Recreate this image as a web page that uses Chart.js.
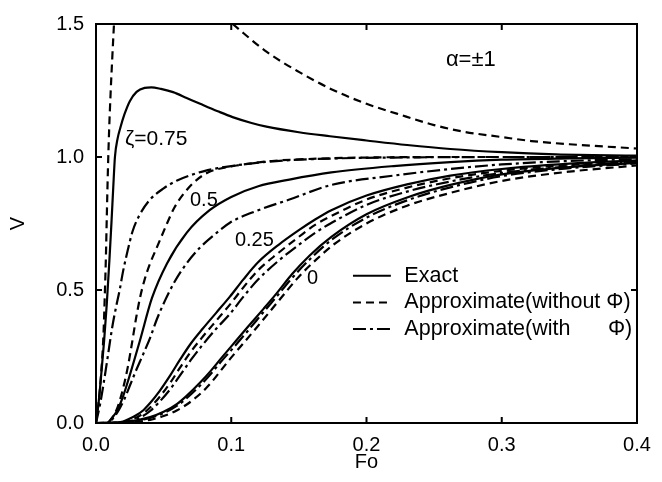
<!DOCTYPE html>
<html><head><meta charset="utf-8">
<script src="https://cdn.jsdelivr.net/npm/chart.js@4.4.0/dist/chart.umd.min.js"></script>
<style>html,body{margin:0;padding:0;background:#fff;}</style>
</head><body>
<canvas id="c" width="662" height="482"></canvas>
<script>
// ---- data (Fo, V) ----
const xTicks = [0.0, 0.1, 0.2, 0.3, 0.4];
const yTicks = [0.0, 0.5, 1.0, 1.5];

// zeta = 0.75
const fo_075_exact = [0,0.002,0.004,0.006,0.008,0.010,0.0115,0.0128,0.014,0.016,0.018,0.021,0.025,0.030,0.036,0.041,0.048,0.057,0.067,0.077,0.090,0.101,0.115,0.126,0.150,0.173,0.200,0.230,0.262,0.300,0.340,0.400];
const v_075_exact  = [0,0.08,0.19,0.31,0.45,0.62,0.76,0.89,1.0,1.07,1.11,1.16,1.21,1.245,1.26,1.262,1.256,1.244,1.222,1.2,1.172,1.15,1.128,1.114,1.093,1.078,1.062,1.045,1.03,1.018,1.01,1.005];
const fo_075_noPhi = [0,0.002,0.004,0.0055,0.0065,0.0073,0.0080,0.0088,0.0097,0.0108,0.0120,0.0133,0.05,0.101,0.126,0.150,0.174,0.200,0.223,0.250,0.272,0.300,0.322,0.350,0.400];
const v_075_noPhi  = [0,0.08,0.2,0.33,0.48,0.62,0.78,0.95,1.1,1.24,1.37,1.5,null,1.5,1.396,1.32,1.255,1.2,1.162,1.12,1.095,1.075,1.06,1.048,1.032];
const fo_075_phi = [0,0.003,0.006,0.009,0.012,0.015,0.0175,0.020,0.0235,0.027,0.032,0.040,0.050,0.060,0.070,0.080,0.090,0.100,0.120,0.143,0.180,0.220,0.300,0.400];
const v_075_phi  = [0,0.07,0.16,0.26,0.36,0.44,0.50,0.57,0.65,0.72,0.78,0.84,0.882,0.912,0.932,0.947,0.958,0.966,0.979,0.988,0.995,0.998,1.0,1.0];

// zeta = 0.5
const fo_05_noPhi = [0,0.008,0.012,0.016,0.020,0.0235,0.0266,0.0295,0.0325,0.036,0.040,0.045,0.0525,0.058,0.0695,0.082,0.095,0.104,0.130,0.160,0.200,0.260,0.330,0.400];
const v_05_noPhi  = [0,0,0.02,0.06,0.13,0.21,0.3,0.39,0.47,0.54,0.6,0.66,0.75,0.81,0.89,0.94,0.96,0.968,0.985,0.993,0.998,1.0,1.0,1.0];
const fo_05_exact = [0,0.008,0.012,0.016,0.020,0.025,0.0325,0.0414,0.0525,0.067,0.084,0.100,0.120,0.143,0.174,0.220,0.262,0.300,0.350,0.400];
const v_05_exact  = [0,0,0.02,0.05,0.1,0.18,0.31,0.47,0.6,0.715,0.8,0.85,0.89,0.915,0.942,0.966,0.981,0.99,0.995,0.998];
const fo_05_phi = [0,0.009,0.013,0.017,0.021,0.025,0.029,0.035,0.040,0.045,0.051,0.058,0.067,0.077,0.088,0.099,0.120,0.143,0.174,0.220,0.262,0.300,0.350,0.400];
const v_05_phi  = [0,0,0.02,0.05,0.09,0.14,0.19,0.26,0.32,0.39,0.46,0.53,0.6,0.66,0.71,0.753,0.80,0.84,0.895,0.93,0.955,0.972,0.985,0.992];

// zeta = 0.25
const fo_025 = [0,0.010,0.020,0.025,0.030,0.035,0.040,0.047,0.055,0.062,0.070,0.079,0.089,0.099,0.109,0.120,0.135,0.150,0.162,0.174,0.200,0.230,0.262,0.300,0.350,0.400];
const v_025_exact = [0,0,0.005,0.017,0.03,0.048,0.075,0.12,0.18,0.237,0.298,0.355,0.415,0.475,0.54,0.605,0.67,0.725,0.765,0.80,0.855,0.897,0.93,0.955,0.975,0.987];
const v_025_noPhi = [0,0,0.003,0.01,0.021,0.036,0.058,0.098,0.152,0.207,0.267,0.325,0.385,0.445,0.51,0.575,0.64,0.70,0.745,0.778,0.84,0.885,0.92,0.948,0.97,0.984];
const v_025_phi   = [0,0,0.002,0.007,0.015,0.027,0.045,0.08,0.128,0.178,0.236,0.295,0.355,0.41,0.475,0.54,0.61,0.67,0.715,0.752,0.82,0.87,0.908,0.94,0.965,0.982];

// zeta = 0
const fo_0 = [0,0.020,0.030,0.040,0.050,0.060,0.067,0.077,0.085,0.092,0.100,0.112,0.124,0.134,0.145,0.158,0.174,0.200,0.230,0.262,0.300,0.350,0.400];
const v_0_exact = [0,0.003,0.01,0.022,0.042,0.072,0.102,0.152,0.197,0.24,0.288,0.36,0.43,0.49,0.56,0.63,0.70,0.785,0.848,0.895,0.935,0.962,0.978];
const v_0_phi   = [0,0.002,0.008,0.019,0.037,0.065,0.093,0.141,0.185,0.228,0.274,0.345,0.418,0.478,0.545,0.615,0.688,0.772,0.837,0.886,0.928,0.958,0.976];
const fo_0_noPhi = [0,0.025,0.040,0.050,0.060,0.070,0.082,0.099,0.119,0.136,0.150,0.163,0.176,0.200,0.230,0.262,0.300,0.350,0.400];
const v_0_noPhi  = [0,0.002,0.012,0.026,0.048,0.08,0.134,0.24,0.36,0.465,0.55,0.615,0.672,0.75,0.817,0.865,0.91,0.945,0.968];

const curveLabels = ['ζ=0.75', '0.5', '0.25', '0'];
const legendLabels = ['Exact', 'Approximate(without Φ)', 'Approximate(with', 'Φ)'];
const noteLabel = 'α=±1';

// ---- chart ----
const FONT = 'Liberation Sans';
Chart.defaults.font.family = FONT;
Chart.defaults.color = '#000';
const SOLID = [], DASH = [8,5], DASHDOT = [13,4,3,4];
const pts = (fo, v) => fo.map((x, i) => ({x: x, y: v[i]}));
const ds = (fo, v, dash) => ({data: pts(fo, v), borderColor: '#000', borderWidth: 2.2, borderDash: dash,
  pointRadius: 0, fill: false, spanGaps: false, cubicInterpolationMode: 'monotone'});

const datasets = [
  ds(fo_075_exact, v_075_exact, SOLID),
  ds(fo_075_noPhi, v_075_noPhi, DASH),
  ds(fo_075_phi, v_075_phi, DASHDOT),
  ds(fo_05_noPhi, v_05_noPhi, DASH),
  ds(fo_05_exact, v_05_exact, SOLID),
  ds(fo_05_phi, v_05_phi, DASHDOT),
  ds(fo_025, v_025_exact, SOLID),
  ds(fo_025, v_025_noPhi, DASH),
  ds(fo_025, v_025_phi, DASHDOT),
  ds(fo_0, v_0_exact, SOLID),
  ds(fo_0, v_0_phi, DASHDOT),
  ds(fo_0_noPhi, v_0_noPhi, DASH)
];

const decor = {
  id: 'decor',
  afterDraw(chart) {
    const {ctx, chartArea: a, scales: {x, y}} = chart;
    ctx.save();
    ctx.strokeStyle = '#000';
    ctx.lineWidth = 2;
    ctx.setLineDash([]);
    ctx.strokeRect(a.left, a.top, a.right - a.left, a.bottom - a.top);
    ctx.beginPath();
    xTicks.slice(1, -1).forEach(t => {
      const px = x.getPixelForValue(t);
      ctx.moveTo(px, a.bottom); ctx.lineTo(px, a.bottom - 6);
      ctx.moveTo(px, a.top); ctx.lineTo(px, a.top + 6);
    });
    yTicks.slice(1, -1).forEach(t => {
      const py = y.getPixelForValue(t);
      ctx.moveTo(a.left, py); ctx.lineTo(a.left + 6, py);
      ctx.moveTo(a.right, py); ctx.lineTo(a.right - 6, py);
    });
    ctx.stroke();

    ctx.fillStyle = '#000';
    ctx.textBaseline = 'middle';
    ctx.textAlign = 'left';
    const put = (txt, fx, vy) => ctx.fillText(txt, x.getPixelForValue(fx), y.getPixelForValue(vy));
    ctx.font = '21px ' + FONT;
    put(curveLabels[0], 0.0214, 1.066);
    ctx.font = '20px ' + FONT;
    put(curveLabels[1], 0.0695, 0.836);
    put(curveLabels[2], 0.1027, 0.687);
    put(curveLabels[3], 0.156, 0.542);
    ctx.font = '22px ' + FONT;
    put(noteLabel, 0.2587, 1.366);

    // legend
    const ly = [0.554, 0.453, 0.353];
    const dashes = [SOLID, DASH, DASHDOT];
    ly.forEach((v, i) => {
      ctx.setLineDash(dashes[i]);
      ctx.beginPath();
      ctx.moveTo(x.getPixelForValue(0.190), y.getPixelForValue(v));
      ctx.lineTo(x.getPixelForValue(0.218), y.getPixelForValue(v));
      ctx.stroke();
    });
    ctx.setLineDash([]);
    ctx.font = '21.5px ' + FONT;
    put(legendLabels[0], 0.228, 0.554);
    put(legendLabels[1], 0.228, 0.453);
    put(legendLabels[2], 0.228, 0.353);
    put(legendLabels[3], 0.3785, 0.353);
    ctx.restore();
  }
};

new Chart(document.getElementById('c'), {
  type: 'line',
  data: {datasets},
  options: {
    responsive: false,
    animation: false,
    layout: {padding: {top: 19, right: 25, bottom: 0, left: 0}},
    plugins: {legend: {display: false}, tooltip: {enabled: false}},
    scales: {
      x: {
        type: 'linear', min: 0, max: 0.4,
        afterBuildTicks: s => { s.ticks = xTicks.map(v => ({value: v})); },
        ticks: {callback: v => v.toFixed(1), font: {size: 20}, color: '#000', padding: 10, maxRotation: 0},
        grid: {display: false, drawTicks: false},
        border: {display: false},
        title: {display: true, text: 'Fo', font: {size: 20}, color: '#000', padding: {top: 0, bottom: 8}},
        afterFit: s => { s.height = 59; }
      },
      y: {
        type: 'linear', min: 0, max: 1.5,
        afterBuildTicks: s => { s.ticks = yTicks.map(v => ({value: v})); },
        ticks: {callback: v => v.toFixed(1), font: {size: 20}, color: '#000', padding: 12},
        grid: {display: false, drawTicks: false},
        border: {display: false},
        title: {display: true, text: 'V', font: {size: 20}, color: '#000', padding: {top: 6, bottom: 0}},
        afterFit: s => { s.width = 96; }
      }
    }
  },
  plugins: [decor]
});
</script>
</body></html>
